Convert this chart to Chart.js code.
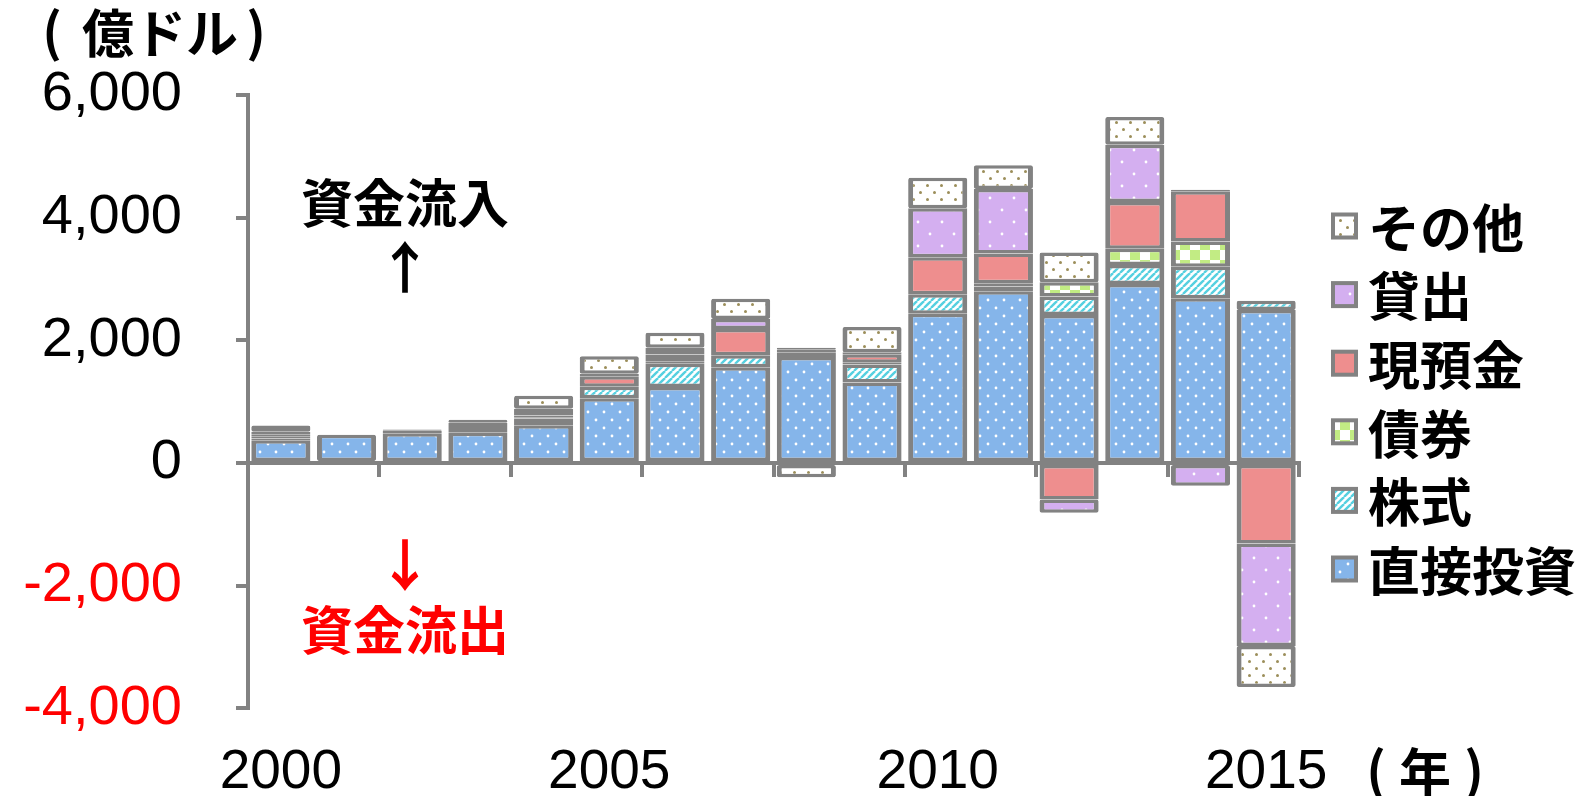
<!DOCTYPE html>
<html>
<head>
<meta charset="utf-8">
<script src="https://cdn.jsdelivr.net/npm/chart.js@4.4.1/dist/chart.umd.min.js"></script>
<style>
  html, body { margin: 0; padding: 0; background: #fff; }
</style>
</head>
<body>
<canvas id="chart" width="1595" height="796"></canvas>
<script>
// 年
const years = ['2000', '2001', '2002', '2003', '2004', '2005', '2006', '2007',
               '2008', '2009', '2010', '2011', '2012', '2013', '2014', '2015'];

// 億ドル
const directInv = [370, 460, 487, 495, 617, 1055, 1238, 1563, 1728, 1315, 2435, 2800, 2415, 2917, 2686, 2494];
const stocks    = [30, 0, 20, 60, 110, 188, 380, 193, 50, 292, 318, 80, 298, 313, 516, 151];
const bonds     = [30, 0, 20, 50, 20, 0, 40, 0, 30, 30, 0, 50, 234, 265, 411, 0];
const deposits  = [40, 0, 20, 50, 30, 173, 110, 430, 40, 138, 600, 487, -596, 760, 818, -1311];
const loans     = [40, 0, 0, 50, 110, 40, 110, 162, 30, 30, 799, 1052, -215, 935, -370, -1670];
const others    = [100, 0, 0, 0, 210, 284, 245, 330, -230, 414, 498, 385, 485, 451, 25, -670];

const yTicks = [-4000, -2000, 0, 2000, 4000, 6000];
const labelYears = ['2000', '2005', '2010', '2015'];

const GRAY = '#828282';
const CJK = '"Noto Sans CJK JP", sans-serif';

function makePattern(size, draw) {
    const c = document.createElement('canvas');
    c.width = size; c.height = size;
    const g = c.getContext('2d');
    draw(g, size);
    return g.createPattern(c, 'repeat');
}

function dots(bg, fg, size, r) {
    return makePattern(size, function(g, s) {
        g.fillStyle = bg;
        g.fillRect(0, 0, s, s);
        g.fillStyle = fg;
        [[s * 0.25, s * 0.25], [s * 0.75, s * 0.75]].forEach(function(p) {
            g.beginPath();
            g.arc(p[0], p[1], r, 0, Math.PI * 2);
            g.fill();
        });
    });
}

const pDirect = dots('#85B5EA', '#ffffff', 16, 1.4);
const pLoan = dots('#D4AFF0', '#ffffff', 24, 1.4);
const pOther = dots('#ffffff', '#9C8E5A', 14, 1.5);
const pCash = '#EE8E8E';
const pStock = makePattern(7, function(g, s) {
    g.fillStyle = '#ffffff';
    g.fillRect(0, 0, s, s);
    g.strokeStyle = '#55D0E0';
    g.lineWidth = 2.4;
    [-s, 0, s].forEach(function(o) {
        g.beginPath();
        g.moveTo(o, s);
        g.lineTo(o + s, 0);
        g.stroke();
    });
});
const pBond = makePattern(20, function(g, s) {
    g.fillStyle = '#ffffff';
    g.fillRect(0, 0, s, s);
    g.fillStyle = '#C2EC84';
    g.fillRect(0, 0, s / 2, s / 2);
    g.fillRect(s / 2, s / 2, s / 2, s / 2);
});

const series = [
    { label: '直接投資', data: directInv, fill: pDirect },
    { label: '株式', data: stocks, fill: pStock },
    { label: '債券', data: bonds, fill: pBond },
    { label: '現預金', data: deposits, fill: pCash },
    { label: '貸出', data: loans, fill: pLoan },
    { label: 'その他', data: others, fill: pOther }
];

const textPlugin = {
    id: 'texts',
    afterDraw(chart) {
        const ctx = chart.ctx;
        ctx.save();
        ctx.textAlign = 'center';
        ctx.textBaseline = 'middle';

        ctx.fillStyle = '#000';
        // unit label, parens placed apart like the original
        ctx.font = 'bold 52px ' + CJK;
        ctx.fillText('億ドル', 160, 33);
        ctx.fillText('(', 52, 31);
        ctx.fillText(')', 256, 31);
        // year label
        ctx.fillText('年', 1425, 772);
        ctx.fillText('(', 1376, 770);
        ctx.fillText(')', 1474, 770);

        ctx.font = 'bold 52px ' + CJK;
        ctx.fillText('資金流入', 405, 203);
        ctx.font = 'bold 56px ' + CJK;
        ctx.fillText('↑', 405, 267);

        ctx.fillStyle = '#FF0000';
        ctx.fillText('↓', 405, 565);
        ctx.font = 'bold 52px ' + CJK;
        ctx.fillText('資金流出', 405, 630);

        // legend, top item is the last series
        ctx.textAlign = 'left';
        ctx.font = 'bold 52px ' + CJK;
        const items = series.slice().reverse();
        items.forEach(function(s, i) {
            const cy = 226 + i * 68.6;
            ctx.fillStyle = GRAY;
            ctx.fillRect(1331, cy - 13.5, 27, 27);
            ctx.fillStyle = s.fill;
            ctx.fillRect(1335, cy - 9.5, 19, 19);
            ctx.fillStyle = '#000';
            ctx.fillText(s.label, 1368, cy + 2);
        });
        ctx.restore();
    }
};

new Chart(document.getElementById('chart'), {
    type: 'bar',
    data: {
        labels: years,
        datasets: series.map(function(s) {
            return {
                label: s.label,
                data: s.data,
                backgroundColor: s.fill,
                borderColor: GRAY,
                borderWidth: { top: 3.5, bottom: 3.5, left: 5, right: 5 },
                borderSkipped: false,
                borderRadius: 2,
                categoryPercentage: 0.9,
                barPercentage: 1.0,
                xAxisID: 'x',
                yAxisID: 'y'
            };
        })
    },
    options: {
        responsive: false,
        animation: false,
        layout: { padding: { top: 95, right: 296, left: 0, bottom: 0 } },
        plugins: {
            legend: { display: false },
            tooltip: { enabled: false }
        },
        scales: {
            x: {
                type: 'category',
                stacked: true,
                offset: true,
                position: { y: 0 },
                border: { color: GRAY, width: 4 },
                grid: {
                    offset: true,
                    drawOnChartArea: false,
                    drawTicks: true,
                    tickLength: 12,
                    lineWidth: 4,
                    color: function(ctx) {
                        const i = ctx.index === undefined ? years.length : ctx.index;
                        return i % 2 === 0 ? GRAY : 'rgba(0,0,0,0)';
                    }
                },
                ticks: { display: false, autoSkip: false }
            },
            xb: {
                type: 'category',
                position: 'bottom',
                offset: true,
                grid: { display: false, drawTicks: false },
                border: { display: false },
                afterFit: function(s) { s.height = 82.5; },
                ticks: {
                    autoSkip: false,
                    maxRotation: 0,
                    padding: 31,
                    color: '#000',
                    font: { family: '"Liberation Sans", Arial, sans-serif', size: 55 },
                    callback: function(v, i) {
                        return labelYears.indexOf(years[i]) >= 0 ? years[i] : '';
                    }
                }
            },
            y: {
                stacked: true,
                min: -4000,
                max: 6000,
                afterFit: function(s) { s.width = 248; },
                afterBuildTicks: function(s) { s.ticks = yTicks.map(function(v) { return { value: v }; }); },
                border: { color: GRAY, width: 4 },
                grid: {
                    drawOnChartArea: false,
                    drawTicks: true,
                    tickLength: 12,
                    lineWidth: 4,
                    color: GRAY
                },
                ticks: {
                    padding: 54,
                    font: { family: '"Liberation Sans", Arial, sans-serif', size: 56 },
                    color: function(ctx) { return ctx.tick.value < 0 ? '#FF0000' : '#000'; },
                    callback: function(v) { return v.toLocaleString('en-US'); }
                }
            }
        }
    },
    plugins: [textPlugin]
});
</script>
</body>
</html>
